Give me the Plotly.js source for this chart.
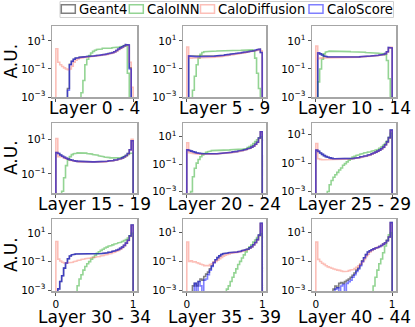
<!DOCTYPE html>
<html>
<head>
<meta charset="utf-8">
<script src="https://cdn.plot.ly/plotly-3.0.1.min.js"></script>
<style>
  html, body { margin: 0; padding: 0; background: #fff; }
  #chart { width: 415px; height: 327px; }
</style>
</head>
<body>
<div id="chart"></div>
<script>
// Normalised energy-fraction histograms per layer group, 40 bins on [0, 1]
const LAYERS = ['Layer 0 - 4', 'Layer 5 - 9', 'Layer 10 - 14',
                'Layer 15 - 19', 'Layer 20 - 24', 'Layer 25 - 29',
                'Layer 30 - 34', 'Layer 35 - 39', 'Layer 40 - 44'];
const SERIES = ['Geant4', 'CaloINN', 'CaloDiffusion', 'CaloScore'];
const N_BINS = 40;

// --- Layer 0 - 4
const geant4_0 = [0,0,0,0,0,0,0.004,0.22,0.36,0.5,0.6,0.64,0.68,0.7,0.74,0.76,0.79,0.81,0.83,0.86,0.89,0.92,0.97,1.0,1.06,1.12,1.18,1.26,1.36,1.5,1.72,2.1,2.6,3.2,3.9,4.6,5.4,5.1,0.12,0];
const caloinn_0 = [0,0,0,0,0,0,0,0,0,0,0,0,0,0.002,0.015,0.2,0.5,0.9,1.4,1.8,2.2,2.5,2.8,2.7,3.0,2.9,3.1,3.2,3.1,3.3,3.4,3.5,3.7,3.9,4.2,4.6,4.4,0.05,0,0];
const calodiff_0 = [2.8,0.3,0.2,0.15,0.12,0.1,0.09,0.1,0.16,0.3,0.42,0.52,0.58,0.62,0.66,0.7,0.72,0.75,0.78,0.8,0.83,0.87,0.9,0.95,1.0,1.05,1.1,1.17,1.25,1.4,1.6,1.9,2.4,2.9,3.5,4.2,5.0,4.8,0.3,0.005];
const caloscore_0 = [0,0,0,0,0,0,0.003,0.2,0.35,0.5,0.58,0.63,0.67,0.7,0.73,0.76,0.78,0.8,0.83,0.85,0.88,0.92,0.96,1.0,1.05,1.1,1.18,1.25,1.35,1.5,1.7,2.1,2.7,3.2,3.8,4.6,5.5,5.2,0.1,0];

// --- Layer 5 - 9
const geant4_1 = [0,0.84,0.79,0.77,0.76,0.76,0.75,0.76,0.76,0.77,0.77,0.78,0.79,0.8,0.82,0.84,0.87,0.9,0.92,0.96,1.0,1.04,1.1,1.14,1.2,1.25,1.3,1.36,1.4,1.5,1.56,1.6,1.7,1.8,1.9,2.0,2.2,2.4,2.6,1.5];
const caloinn_1 = [0,0,0,0.003,0.03,0.2,0.6,1.1,1.5,1.7,1.8,1.85,1.9,1.9,1.85,1.9,1.95,1.9,1.9,1.95,2.0,1.95,2.0,2.0,2.05,2.0,2.1,2.1,2.15,2.2,2.2,2.3,2.3,2.4,2.3,2.0,0.6,0.05,0.004,0];
const calodiff_1 = [3.7,0.62,0.6,0.62,0.62,0.63,0.63,0.64,0.64,0.65,0.65,0.66,0.67,0.68,0.7,0.72,0.74,0.76,0.79,0.82,0.86,0.9,0.95,1.0,1.05,1.1,1.15,1.2,1.3,1.35,1.4,1.5,1.6,1.7,1.8,1.9,2.0,2.2,2.4,2.0];
const caloscore_1 = [0,0.85,0.8,0.77,0.76,0.75,0.76,0.75,0.76,0.76,0.77,0.78,0.79,0.8,0.82,0.85,0.87,0.9,0.93,0.96,1.0,1.05,1.1,1.15,1.2,1.25,1.3,1.35,1.4,1.5,1.55,1.6,1.7,1.8,1.9,2.0,2.2,2.4,2.6,1.5];

// --- Layer 10 - 14
const geant4_2 = [0,1.4,1.2,1.0,0.86,0.76,0.72,0.7,0.68,0.67,0.66,0.66,0.65,0.65,0.65,0.66,0.66,0.67,0.68,0.69,0.7,0.71,0.72,0.74,0.75,0.77,0.79,0.81,0.83,0.86,0.88,0.91,0.95,0.98,1.02,1.1,1.25,1.7,3.4,3.2];
const caloinn_2 = [0,0.012,0.1,0.5,1.2,1.6,1.8,1.9,1.95,1.9,1.95,1.9,1.85,1.85,1.8,1.8,1.75,1.75,1.7,1.7,1.65,1.65,1.6,1.6,1.55,1.55,1.5,1.5,1.45,1.45,1.4,1.4,1.35,1.3,1.25,1.2,1.05,0.4,0.02,0.001];
const calodiff_2 = [4.4,0.55,0.6,0.62,0.62,0.62,0.62,0.62,0.62,0.62,0.62,0.62,0.63,0.63,0.63,0.64,0.64,0.65,0.66,0.67,0.68,0.69,0.7,0.72,0.73,0.75,0.77,0.79,0.81,0.83,0.86,0.88,0.92,0.95,1.0,1.05,1.2,1.6,3.0,3.6];
const caloscore_2 = [0,1.45,1.2,1.0,0.85,0.76,0.72,0.7,0.68,0.67,0.66,0.65,0.65,0.65,0.65,0.66,0.66,0.67,0.68,0.69,0.7,0.71,0.72,0.74,0.75,0.77,0.79,0.81,0.83,0.86,0.88,0.91,0.95,0.98,1.02,1.1,1.25,1.7,3.5,3.2];

// --- Layer 15 - 19
const geant4_3 = [1.7,1.5,1.25,1.05,0.9,0.8,0.72,0.66,0.62,0.58,0.55,0.53,0.52,0.51,0.5,0.5,0.5,0.5,0.5,0.5,0.5,0.5,0.5,0.51,0.52,0.53,0.54,0.56,0.58,0.6,0.63,0.66,0.7,0.76,0.85,0.98,1.15,1.5,2.5,8.3];
const caloinn_3 = [0,0,0,0.01,0.06,0.3,0.65,1.0,1.3,1.45,1.55,1.65,1.7,1.7,1.65,1.6,1.5,1.45,1.4,1.3,1.25,1.2,1.1,1.05,1.0,0.95,0.92,0.88,0.85,0.82,0.8,0.8,0.8,0.85,0.9,1.0,1.15,1.35,1.5,1.6];
const calodiff_3 = [11,1.0,1.0,0.95,0.85,0.75,0.68,0.62,0.58,0.55,0.52,0.5,0.49,0.48,0.48,0.47,0.47,0.47,0.47,0.47,0.47,0.47,0.48,0.48,0.49,0.5,0.52,0.53,0.55,0.57,0.6,0.63,0.67,0.72,0.8,0.92,1.1,1.4,2.4,10];
const caloscore_3 = [1.7,1.5,1.25,1.05,0.9,0.8,0.72,0.66,0.62,0.58,0.55,0.53,0.52,0.51,0.5,0.5,0.5,0.5,0.5,0.5,0.5,0.5,0.5,0.51,0.52,0.53,0.54,0.56,0.58,0.6,0.63,0.66,0.7,0.76,0.85,0.98,1.15,1.5,2.5,8.3];

// --- Layer 20 - 24
const geant4_4 = [1.1,1.0,0.9,0.8,0.72,0.66,0.62,0.6,0.58,0.57,0.56,0.56,0.56,0.56,0.57,0.58,0.59,0.6,0.62,0.63,0.65,0.67,0.7,0.73,0.77,0.8,0.85,0.9,0.95,1.02,1.1,1.2,1.35,1.5,1.75,2.1,2.8,4.0,8.0,23];
const caloinn_4 = [0,0,0.001,0.012,0.05,0.12,0.22,0.35,0.48,0.6,0.72,0.82,0.9,0.97,1.0,1.02,1.05,1.05,1.08,1.08,1.1,1.1,1.1,1.12,1.12,1.15,1.15,1.18,1.2,1.25,1.3,1.4,1.6,1.9,2.4,3.2,4.4,6.0,8.0,10];
const calodiff_4 = [3.6,0.7,0.65,0.6,0.57,0.55,0.53,0.52,0.52,0.52,0.52,0.52,0.53,0.53,0.54,0.55,0.56,0.57,0.58,0.6,0.62,0.64,0.66,0.69,0.72,0.76,0.8,0.85,0.9,0.96,1.04,1.14,1.28,1.45,1.7,2.0,2.7,3.8,7.5,22];
const caloscore_4 = [1.1,1.0,0.9,0.8,0.72,0.66,0.62,0.6,0.58,0.57,0.56,0.56,0.56,0.56,0.57,0.58,0.59,0.6,0.62,0.63,0.65,0.67,0.7,0.73,0.77,0.8,0.85,0.9,0.95,1.02,1.1,1.2,1.35,1.5,1.75,2.1,2.8,4.0,8.0,23];

// --- Layer 25 - 29
const geant4_5 = [0.8,0.65,0.5,0.4,0.33,0.28,0.25,0.23,0.21,0.2,0.2,0.19,0.19,0.19,0.19,0.19,0.2,0.2,0.2,0.21,0.22,0.23,0.24,0.26,0.28,0.3,0.32,0.35,0.39,0.44,0.5,0.58,0.68,0.8,1.0,1.3,1.9,3.0,6.0,20];
const caloinn_5 = [0,0,0,0,0,0,0.001,0.003,0.006,0.01,0.015,0.022,0.032,0.045,0.07,0.09,0.12,0.16,0.2,0.26,0.3,0.34,0.38,0.42,0.46,0.5,0.54,0.58,0.62,0.68,0.74,0.8,0.9,1.05,1.3,1.7,2.3,3.5,6.0,12];
const calodiff_5 = [2.3,0.2,0.18,0.17,0.17,0.17,0.17,0.17,0.17,0.17,0.17,0.17,0.17,0.17,0.18,0.18,0.18,0.19,0.19,0.2,0.21,0.22,0.23,0.24,0.26,0.28,0.3,0.33,0.37,0.42,0.48,0.55,0.65,0.78,0.95,1.25,1.8,2.8,5.5,18];
const caloscore_5 = [0.8,0.65,0.5,0.4,0.33,0.28,0.25,0.23,0.21,0.2,0.2,0.19,0.19,0.19,0.19,0.19,0.2,0.2,0.2,0.21,0.22,0.23,0.24,0.26,0.28,0.3,0.32,0.35,0.39,0.44,0.5,0.58,0.68,0.8,1.0,1.3,1.9,3.0,6.0,20];

// --- Layer 30 - 34
const geant4_6 = [0,0.0012,0.004,0.01,0.035,0.08,0.16,0.25,0.3,0.33,0.34,0.34,0.34,0.34,0.33,0.33,0.33,0.33,0.33,0.34,0.34,0.35,0.36,0.37,0.38,0.4,0.42,0.45,0.48,0.52,0.57,0.63,0.72,0.85,1.05,1.4,2.0,3.2,6.5,38];
const caloinn_6 = [0,0,0,0,0,0,0,0,0,0,0,0.002,0.006,0.012,0.025,0.045,0.07,0.1,0.15,0.2,0.28,0.38,0.5,0.62,0.75,0.9,1.05,1.2,1.35,1.5,1.7,1.9,2.1,2.3,2.6,3.0,3.6,4.6,6.5,10];
const calodiff_6 = [2.6,0.15,0.11,0.09,0.08,0.08,0.08,0.085,0.09,0.1,0.11,0.12,0.13,0.14,0.15,0.16,0.17,0.18,0.19,0.2,0.21,0.22,0.23,0.25,0.27,0.29,0.31,0.34,0.37,0.41,0.46,0.53,0.62,0.75,0.95,1.3,1.9,3.0,6.0,35];
const caloscore_6 = [0,0.0012,0.004,0.01,0.035,0.08,0.16,0.25,0.3,0.33,0.34,0.34,0.34,0.34,0.33,0.33,0.33,0.33,0.33,0.34,0.34,0.35,0.36,0.37,0.38,0.4,0.42,0.45,0.48,0.52,0.57,0.63,0.72,0.85,1.05,1.4,2.0,3.2,6.5,38];

// --- Layer 35 - 39
const geant4_7 = [0,0,0,0.002,0.003,0.002,0.004,0.006,0.005,0.009,0.013,0.018,0.03,0.05,0.085,0.13,0.18,0.24,0.3,0.34,0.36,0.38,0.4,0.41,0.42,0.43,0.44,0.46,0.5,0.55,0.6,0.65,0.72,0.85,1.05,1.4,2.0,3.2,6.5,43];
const caloinn_7 = [0,0,0,0,0,0,0,0,0,0,0,0,0,0,0,0,0,0,0,0,0,0.0012,0.002,0.004,0.008,0.016,0.03,0.06,0.1,0.17,0.28,0.45,0.7,1.0,1.4,2.2,3.0,4.5,6.0,8.0];
const calodiff_7 = [2.2,0.1,0.11,0.09,0.095,0.08,0.072,0.063,0.058,0.05,0.052,0.05,0.06,0.068,0.088,0.1,0.12,0.15,0.19,0.23,0.27,0.3,0.33,0.36,0.38,0.4,0.42,0.44,0.47,0.5,0.55,0.6,0.67,0.8,1.0,1.3,1.9,3.0,6.0,40];
const caloscore_7 = [0,0,0,0,0.003,0,0.004,0.002,0,0.005,0.006,0.012,0.024,0.045,0.08,0.13,0.18,0.24,0.3,0.34,0.36,0.38,0.4,0.41,0.42,0.43,0.44,0.46,0.5,0.55,0.6,0.65,0.72,0.85,1.05,1.4,2.0,3.2,6.5,43];

// --- Layer 40 - 44
const geant4_8 = [0,0,0,0,0,0,0,0,0,0.0012,0.002,0.0015,0.003,0.0035,0.003,0.004,0.005,0.006,0.008,0.011,0.016,0.025,0.035,0.06,0.11,0.18,0.3,0.45,0.55,0.65,0.75,0.85,0.95,1.1,1.3,1.6,2.0,2.8,5.0,50];
const caloinn_8 = [0,0,0,0,0,0,0,0,0,0,0,0,0,0,0,0,0,0,0,0,0,0,0,0,0,0,0,0,0,0,0.002,0.008,0.025,0.07,0.15,0.4,1.2,3.0,7.0,10];
const calodiff_8 = [2.2,0.14,0.1,0.075,0.063,0.05,0.042,0.038,0.034,0.03,0.028,0.025,0.024,0.022,0.02,0.02,0.021,0.023,0.026,0.028,0.032,0.04,0.05,0.065,0.09,0.14,0.22,0.32,0.45,0.58,0.7,0.82,0.95,1.1,1.3,1.6,2.0,2.8,5.0,45];
const caloscore_8 = [0,0,0,0,0,0,0,0,0,0,0.0012,0.0015,0,0.002,0.0025,0,0.003,0.004,0.005,0.008,0.012,0.02,0.03,0.05,0.1,0.18,0.3,0.45,0.55,0.65,0.75,0.85,0.95,1.1,1.3,1.6,2.0,2.8,5.0,50];

const GEANT4 = [geant4_0, geant4_1, geant4_2, geant4_3, geant4_4, geant4_5, geant4_6, geant4_7, geant4_8];
const CALOINN = [caloinn_0, caloinn_1, caloinn_2, caloinn_3, caloinn_4, caloinn_5, caloinn_6, caloinn_7, caloinn_8];
const CALODIFF = [calodiff_0, calodiff_1, calodiff_2, calodiff_3, calodiff_4, calodiff_5, calodiff_6, calodiff_7, calodiff_8];
const CALOSCORE = [caloscore_0, caloscore_1, caloscore_2, caloscore_3, caloscore_4, caloscore_5, caloscore_6, caloscore_7, caloscore_8];

// y-axis (log10) limits per panel, as in the figure
const Y_RANGES = [[-3, 2.07], [-3, 2.07], [-3, 2.07],
                  [-2.1, 1.94], [-3.1, 2.0], [-3.1, 1.8],
                  [-3.07, 2.0], [-3.05, 1.93], [-3.05, 1.95]];

const COLORS = ['rgba(0,0,0,0.5)', 'rgba(40,170,40,0.5)', 'rgba(250,128,114,0.5)', 'rgba(0,0,255,0.5)'];
const FONT = 'DejaVu Sans';

// page geometry in pixels
const W = 415, H = 327;
const COLS = [[52, 137], [183, 266], [312, 396]];
const ROWS = [[26, 97], [123, 193], [219, 291]];
const px = x => x / W;
const py = y => 1 - y / H;

const FLOOR = 1e-6; // empty bins drop to the bottom of the log axis

// matplotlib-style 'step' outline from bin values
function stepOutline(vals) {
  const bw = 1 / N_BINS;
  const xs = [0], ys = [FLOOR];
  vals.forEach((v, i) => {
    const y = v > 0 ? v : FLOOR;
    xs.push(i * bw, (i + 1) * bw);
    ys.push(y, y);
  });
  xs.push(1);
  ys.push(FLOOR);
  return { xs, ys };
}

const traces = [];
const layout = {
  width: W, height: H,
  margin: { l: 0, r: 0, t: 0, b: 0 },
  paper_bgcolor: '#fff',
  plot_bgcolor: '#fff',
  font: { family: FONT, color: '#000' },
  showlegend: false,
  annotations: [],
  shapes: []
};

const MINUS = '\u2212';
LAYERS.forEach((title, k) => {
  const row = Math.floor(k / 3), col = k % 3;
  const sfx = k === 0 ? '' : String(k + 1);
  const xa = 'x' + sfx, ya = 'y' + sfx;

  [GEANT4, CALOINN, CALODIFF, CALOSCORE].forEach((src, s) => {
    const o = stepOutline(src[k]);
    traces.push({
      x: o.xs, y: o.ys,
      xaxis: xa, yaxis: ya,
      type: 'scatter', mode: 'lines',
      name: SERIES[s],
      line: { color: COLORS[s], width: 1.6 },
      hoverinfo: 'skip'
    });
  });

  layout['xaxis' + sfx] = {
    domain: [px(COLS[col][0]), px(COLS[col][1])],
    anchor: ya,
    range: [-0.05, 1.05],
    showgrid: false, zeroline: false,
    showline: true, mirror: true, linecolor: '#a6a6a6', linewidth: 1.5,
    ticks: 'outside', ticklen: 3, tickcolor: '#555', tickwidth: 1,
    tickvals: [0, 1], ticktext: ['0', '1'],
    showticklabels: row === 2,
    tickfont: { size: 10.5, family: FONT }
  };
  layout['yaxis' + sfx] = {
    domain: [py(ROWS[row][1]), py(ROWS[row][0])],
    anchor: xa,
    type: 'log',
    range: Y_RANGES[k],
    showgrid: false, zeroline: false,
    showline: true, mirror: true, linecolor: '#a6a6a6', linewidth: 1.5,
    ticks: 'outside', ticklen: 3, tickcolor: '#555', tickwidth: 1,
    tickvals: [1e-3, 1e-1, 10],
    ticktext: ['10<sup>' + MINUS + '3</sup>', '10<sup>' + MINUS + '1</sup>', '10<sup>1</sup>'],
    tickfont: { size: 10.5, family: FONT }
  };

  // panel label under each plot
  const titleY = row === 2 ? 316.5 : ROWS[row][1] + 10.5;
  layout.annotations.push({
    xref: 'paper', yref: 'paper',
    x: px((COLS[col][0] + COLS[col][1]) / 2), y: py(titleY),
    xanchor: 'center', yanchor: 'middle',
    text: title, showarrow: false, borderpad: 0,
    font: { size: 17, family: FONT }
  });

  if (col === 0) {
    layout.annotations.push({
      xref: 'paper', yref: 'paper',
      x: px(11), y: py((ROWS[row][0] + ROWS[row][1]) / 2),
      xanchor: 'center', yanchor: 'middle',
      text: 'A.U.', textangle: -90, showarrow: false,
      font: { size: 17, family: FONT }
    });
  }
});

// legend across the top
layout.shapes.push({
  type: 'rect', xref: 'paper', yref: 'paper',
  x0: px(60), x1: px(393.5), y0: py(1.5), y1: py(17.5),
  line: { color: '#d0d0d0', width: 1 }, fillcolor: '#fff', layer: 'below'
});
const LEG_X = [61.3, 129.3, 200.5, 309];
SERIES.forEach((name, s) => {
  layout.shapes.push({
    type: 'rect', xref: 'paper', yref: 'paper',
    x0: px(LEG_X[s]), x1: px(LEG_X[s] + 14), y0: py(4.8), y1: py(13.3),
    line: { color: COLORS[s], width: 1.5 }, fillcolor: 'rgba(0,0,0,0)'
  });
  layout.annotations.push({
    xref: 'paper', yref: 'paper',
    x: px(LEG_X[s] + 15.5), y: py(9.3),
    xanchor: 'left', yanchor: 'middle',
    text: name, showarrow: false,
    font: { size: 13.2, family: FONT }
  });
});

Plotly.newPlot('chart', traces, layout, { displayModeBar: false, staticPlot: true });
</script>
</body>
</html>
